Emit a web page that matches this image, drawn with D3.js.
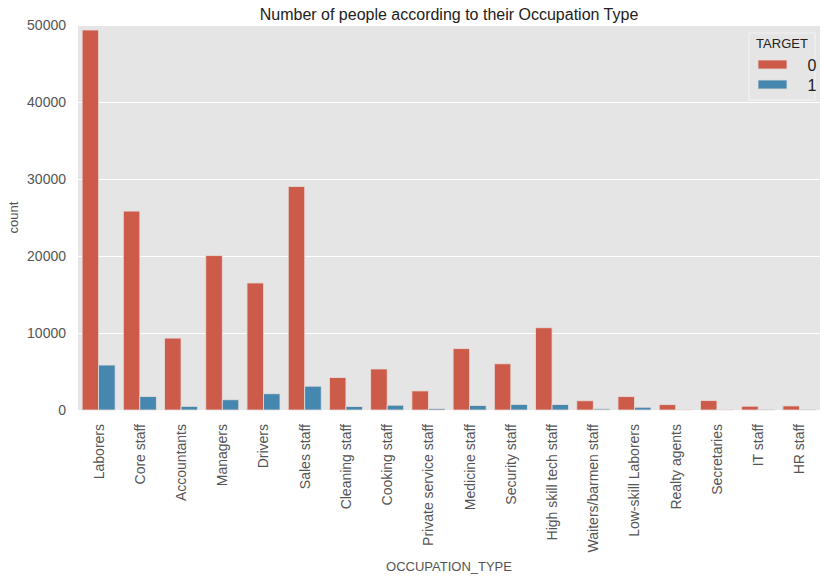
<!DOCTYPE html>
<html>
<head>
<meta charset="utf-8">
<script src="https://cdn.jsdelivr.net/npm/d3@7"></script>
<style>
  body { margin: 0; background: #fff; }
  svg { font-family: Arial, "Liberation Sans", sans-serif; }
</style>
</head>
<body>
<svg id="chart"></svg>
<script>
// occupation categories in plot order
const occupations = ['Laborers', 'Core staff', 'Accountants', 'Managers', 'Drivers', 'Sales staff',
  'Cleaning staff', 'Cooking staff', 'Private service staff', 'Medicine staff', 'Security staff',
  'High skill tech staff', 'Waiters/barmen staff', 'Low-skill Laborers', 'Realty agents',
  'Secretaries', 'IT staff', 'HR staff'];

const target0 = [49348, 25832, 9339, 20043, 16496, 29010, 4206, 5325, 2477, 7965, 5999,
  10679, 1196, 1734, 692, 1213, 492, 527];
const target1 = [5838, 1738, 474, 1328, 2107, 3092, 447, 621, 175, 572, 722,
  701, 152, 359, 59, 92, 34, 36];

const hues = ['0', '1'];
const yTicks = [0, 10000, 20000, 30000, 40000, 50000];

const W = 829, H = 581;
const margin = {top: 25, right: 9, bottom: 171, left: 78};
const width = W - margin.left - margin.right;
const height = H - margin.top - margin.bottom;

const svg = d3.select('#chart').attr('width', W).attr('height', H);
const chart = svg.append('g').attr('transform', `translate(${margin.left},${margin.top})`);

const colour = d3.scaleOrdinal().domain(hues).range(['#cd5b49', '#4587ae']);

const x = d3.scaleBand().domain(occupations).range([0, width]).paddingInner(0.2).paddingOuter(0.1);
const xHue = d3.scaleBand().domain(hues).range([0, x.bandwidth()]);
const y = d3.scaleLinear().domain([0, 50000]).range([height, 0]);

// background
chart.append('rect').attr('width', width).attr('height', height).attr('fill', '#e5e5e5');

// grid
chart.append('g')
  .call(d3.axisLeft(y).tickValues(yTicks).tickSize(-width).tickFormat(''))
  .call(g => g.select('.domain').remove())
  .call(g => g.selectAll('line').attr('stroke', '#fff').attr('stroke-width', 1));

// rows for the bars
const rows = occupations.map((o, i) => ({occ: o, vals: [
  {hue: '0', v: target0[i]}, {hue: '1', v: target1[i]}]}));

chart.selectAll('.grp')
  .data(rows)
  .join('g')
  .attr('class', 'grp')
  .attr('transform', d => `translate(${x(d.occ)},0)`)
  .selectAll('rect')
  .data(d => d.vals)
  .join('rect')
  .attr('x', d => xHue(d.hue))
  .attr('y', d => y(d.v))
  .attr('width', xHue.bandwidth())
  .attr('height', d => height - y(d.v))
  .attr('fill', d => colour(d.hue))
  .attr('stroke', '#e6dcda')
  .attr('stroke-width', 0.8);

// y axis labels
const yAxis = chart.append('g')
  .call(d3.axisLeft(y).tickValues(yTicks).tickSize(0).tickPadding(12).tickFormat(d3.format('d')));
yAxis.select('.domain').remove();
yAxis.attr('font-size', 14).attr('font-family', null);
yAxis.selectAll('text').attr('fill', '#555');

// x axis labels, rotated
const xAxis = chart.append('g')
  .attr('transform', `translate(0,${height})`)
  .call(d3.axisBottom(x).tickSize(0).tickPadding(0));
xAxis.select('.domain').remove();
xAxis.attr('font-size', 14).attr('font-family', null);
xAxis.selectAll('text')
  .attr('fill', '#555')
  .attr('transform', 'rotate(-90)')
  .attr('x', -14).attr('y', 0).attr('dy', '0.35em')
  .attr('text-anchor', 'end');

// titles
svg.append('text')
  .attr('x', margin.left + width / 2).attr('y', 20)
  .attr('text-anchor', 'middle').attr('font-size', 16).attr('fill', '#222')
  .text('Number of people according to their Occupation Type');

svg.append('text')
  .attr('x', margin.left + width / 2).attr('y', 571)
  .attr('text-anchor', 'middle').attr('font-size', 13).attr('fill', '#555')
  .text('OCCUPATION_TYPE');

svg.append('text')
  .attr('transform', `translate(18,${margin.top + height / 2}) rotate(-90)`)
  .attr('text-anchor', 'middle').attr('font-size', 13).attr('fill', '#555')
  .text('count');

// legend
const lg = svg.append('g').attr('transform', 'translate(749,33)');
lg.append('rect').attr('width', 66).attr('height', 67)
  .attr('fill', '#e5e5e5').attr('stroke', '#f4f4f4').attr('stroke-width', 1);
lg.append('text').attr('x', 33).attr('y', 15).attr('text-anchor', 'middle')
  .attr('font-size', 13).attr('fill', '#222').text('TARGET');
const items = lg.selectAll('.item').data(hues).join('g')
  .attr('class', 'item')
  .attr('transform', (d, i) => `translate(9,${27 + i * 20})`);
items.append('rect').attr('width', 29).attr('height', 9)
  .attr('fill', d => colour(d)).attr('stroke', '#e6dcda').attr('stroke-width', 0.8);
items.append('text').attr('x', 54).attr('y', 10.5).attr('text-anchor', 'middle')
  .attr('font-size', 16).attr('fill', '#222').text(d => d);
</script>
</body>
</html>
